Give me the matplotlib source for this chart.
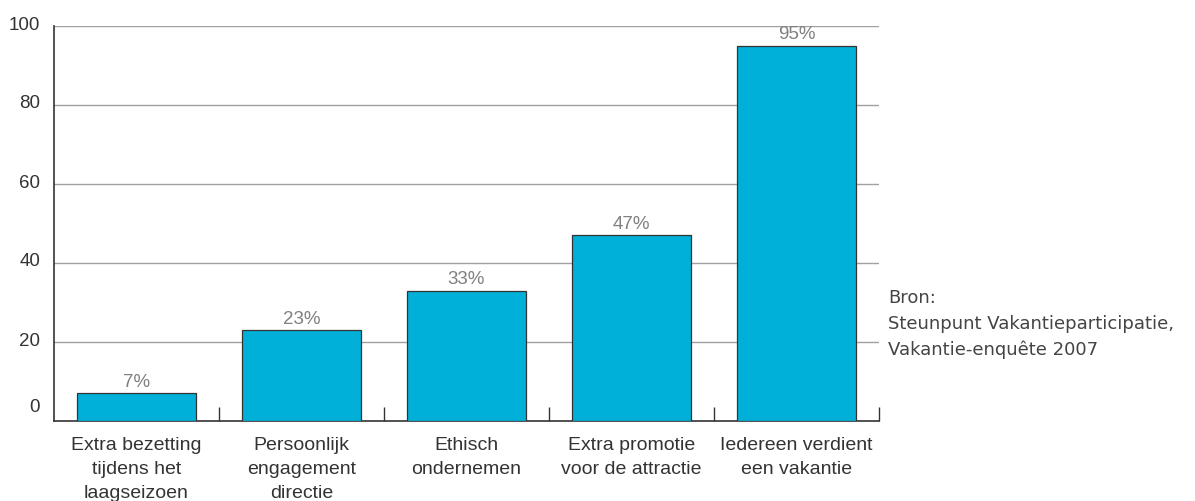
import matplotlib
matplotlib.use("Agg")
import matplotlib.pyplot as plt
import matplotlib.transforms as mtransforms
import numpy as np

plt.rcParams['font.family'] = ['Liberation Sans', 'DejaVu Sans']

categories = ["Extra bezetting\ntijdens het\nlaagseizoen",
              "Persoonlijk\nengagement\ndirectie",
              "Ethisch\nondernemen",
              "Extra promotie\nvoor de attractie",
              "Iedereen verdient\neen vakantie"]
values = [7, 23, 33, 47, 95]
yticks = [0, 20, 40, 60, 80, 100]

bar_color = "#00b0d8"
text_color = "#333333"

fig = plt.figure(figsize=(11.95, 5.01), dpi=100)
ax = fig.add_axes([54/1195, 80/501, 825/1195, 395/501])

x = np.arange(len(values))
ax.bar(x, values, width=0.72, color=bar_color, edgecolor="#333333", linewidth=0.9, zorder=3)

for xi, v in zip(x, values):
    ax.text(xi, v + 0.6, f"{v}%", ha="center", va="bottom", fontsize=13.5, color="#808080")

ax.set_xlim(-0.5, 4.5)
ax.set_ylim(0, 100)

# grid lines
for t in yticks[1:]:
    ax.axhline(t, color="#a0a0a0", linewidth=1.0, zorder=1)

ax.set_yticks(yticks)
ax.set_yticklabels([str(t) for t in yticks], fontsize=13.5, color=text_color)
ax.tick_params(axis="y", length=0, pad=10)
# zero label sits higher than the axis line
lbl0 = ax.get_yticklabels()[0]
lbl0.set_transform(lbl0.get_transform() + mtransforms.ScaledTranslation(0, 15/100, fig.dpi_scale_trans))
for lbl in ax.get_yticklabels()[1:]:
    lbl.set_transform(lbl.get_transform() + mtransforms.ScaledTranslation(0, 3/100, fig.dpi_scale_trans))

# category labels at centers, tick marks between categories
ax.set_xticks(x + 0.5)
ax.set_xticklabels([])
ax.tick_params(axis="x", direction="in", length=10, width=1.0, color="#333333")
for xi, c in zip(x, categories):
    ax.text(xi, -4.1, c, ha="center", va="top", fontsize=14, color=text_color,
            linespacing=1.55, clip_on=False)

for s in ["top", "right"]:
    ax.spines[s].set_visible(False)
ax.spines["left"].set_color("#333333")
ax.spines["bottom"].set_color("#333333")
ax.spines["left"].set_linewidth(1.2)
ax.spines["bottom"].set_linewidth(1.2)

fig.text(888/1195, 1 - 289/501, "Bron:\nSteunpunt Vakantieparticipatie,\nVakantie-enquête 2007",
         ha="left", va="top", fontsize=13, color="#444444", linespacing=1.55,
         family=["DejaVu Sans"])

fig.savefig("out.png", dpi=100)
